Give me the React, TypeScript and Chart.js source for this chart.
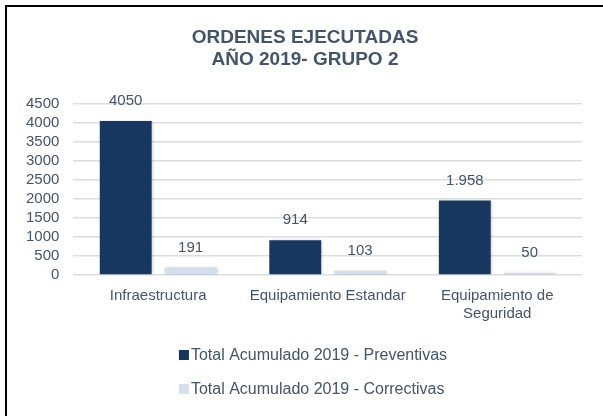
import React, { useEffect, useRef } from "react";
import { Chart, registerables } from "chart.js";

Chart.register(...registerables);

const categories: (string | string[])[] = [
  "Infraestructura",
  "Equipamiento Estandar",
  ["Equipamiento de", "Seguridad"],
];
const preventivas = [4050, 914, 1958];
const correctivas = [191, 103, 50];
const preventivasLabels = ["4050", "914", "1.958"];
const correctivasLabels = ["191", "103", "50"];
const seriesNames = [
  "Total Acumulado 2019 - Preventivas",
  "Total Acumulado 2019 - Correctivas",
];
const titleLines = ["ORDENES EJECUTADAS", "AÑO 2019- GRUPO 2"];
const yMax = 4500;
const yStep = 500;

const FONT = "'Liberation Sans', Arial, sans-serif";
const TEXT = "#44546A";
const DARK = "#17375E";
const LIGHT = "#D5DFEC";
const GRID = "#DADDE2";
const PAD = { left: 12, right: 21, top: 104, bottom: 81 };
// box (frame) horizontal extent used to centre the title and legend
const BOX_LEFT = 28;
const BOX_RIGHT_MARGIN = 21;

const titlePlugin = {
  id: "customTitle",
  afterDraw(chart: any) {
    const ctx = chart.ctx;
    const cx = (BOX_LEFT + chart.width - BOX_RIGHT_MARGIN) / 2;
    ctx.save();
    ctx.font = `bold 19px ${FONT}`;
    ctx.fillStyle = TEXT;
    ctx.textAlign = "center";
    ctx.textBaseline = "middle";
    titleLines.forEach((t, i) => ctx.fillText(t, cx, 38 + i * 22));
    ctx.restore();
  },
};

const valueLabelsPlugin = {
  id: "valueLabels",
  afterDatasetsDraw(chart: any) {
    const ctx = chart.ctx;
    const texts = [preventivasLabels, correctivasLabels];
    ctx.save();
    ctx.font = `15px ${FONT}`;
    ctx.fillStyle = TEXT;
    ctx.textAlign = "center";
    ctx.textBaseline = "middle";
    chart.data.datasets.forEach((_ds: any, di: number) => {
      const meta = chart.getDatasetMeta(di);
      meta.data.forEach((el: any, i: number) => {
        ctx.fillText(texts[di][i], el.x, el.y - 20);
      });
    });
    ctx.restore();
  },
};

const barShadowPlugin = {
  id: "barShadow",
  beforeDatasetsDraw(chart: any) {
    const ctx = chart.ctx;
    ctx.save();
    ctx.shadowColor = "rgba(0,0,0,0.22)";
    ctx.shadowBlur = 3;
    ctx.shadowOffsetX = 1;
    ctx.shadowOffsetY = 0;
  },
  afterDatasetsDraw(chart: any) {
    chart.ctx.restore();
  },
};

const customLegendPlugin = {
  id: "customLegend",
  afterDraw(chart: any) {
    const ctx = chart.ctx;
    const colors = [DARK, LIGHT];
    ctx.save();
    ctx.font = `16px ${FONT}`;
    const box = 10;
    const gap = 2;
    const maxW = Math.max(...seriesNames.map((s) => ctx.measureText(s).width));
    const blockW = box + gap + maxW;
    const cx = (BOX_LEFT + chart.width - BOX_RIGHT_MARGIN) / 2 + 8;
    const x0 = cx - blockW / 2;
    const rows = [chart.height - 61, chart.height - 27];
    seriesNames.forEach((name, i) => {
      ctx.fillStyle = colors[i];
      ctx.fillRect(x0, rows[i] - box / 2, box, box);
      ctx.fillStyle = TEXT;
      ctx.textAlign = "left";
      ctx.textBaseline = "middle";
      ctx.fillText(name, x0 + box + gap, rows[i] + 1);
    });
    ctx.restore();
  },
};

export default function App() {
  const ref = useRef<HTMLCanvasElement>(null);
  useEffect(() => {
    if (!ref.current) return;
    const chart = new Chart(ref.current, {
      type: "bar",
      data: {
        labels: categories as any,
        datasets: [
          {
            label: seriesNames[0],
            data: preventivas,
            backgroundColor: DARK,
            categoryPercentage: 0.765,
            barPercentage: 0.8,
          },
          {
            label: seriesNames[1],
            data: correctivas,
            backgroundColor: LIGHT,
            categoryPercentage: 0.765,
            barPercentage: 0.8,
          },
        ],
      },
      options: {
        responsive: false,
        animation: false,
        devicePixelRatio: 1,
        layout: { padding: PAD },
        plugins: {
          legend: { display: false },
          tooltip: { enabled: false },
          title: { display: false },
        },
        scales: {
          x: {
            grid: { display: false, drawTicks: false },
            border: { display: false },
            ticks: {
              color: TEXT,
              font: { family: FONT, size: 15, lineHeight: 1.2 },
              padding: 12,
              maxRotation: 0,
              autoSkip: false,
            },
          },
          y: {
            min: 0,
            max: yMax,
            grid: { color: GRID, lineWidth: 1.5, drawTicks: false },
            border: { display: false },
            ticks: {
              stepSize: yStep,
              autoSkip: false,
              color: TEXT,
              font: { family: FONT, size: 15 },
              padding: 14,
              callback: (v: any) => String(v),
            },
          },
        },
      },
      plugins: [barShadowPlugin, valueLabelsPlugin, titlePlugin, customLegendPlugin],
    });
    return () => chart.destroy();
  }, []);

  return (
    <div
      style={{
        position: "absolute",
        left: 0,
        top: 0,
        width: 603,
        height: 416,
        overflow: "hidden",
        background: "#fff",
      }}
    >
      <div
        style={{
          position: "absolute",
          left: 5,
          top: 5,
          width: 700,
          height: 500,
          border: "2px solid #000",
          boxSizing: "border-box",
        }}
      />
      <canvas
        ref={ref}
        width={603}
        height={416}
        style={{ position: "absolute", left: 0, top: 0, width: 603, height: 416 }}
      />
    </div>
  );
}
